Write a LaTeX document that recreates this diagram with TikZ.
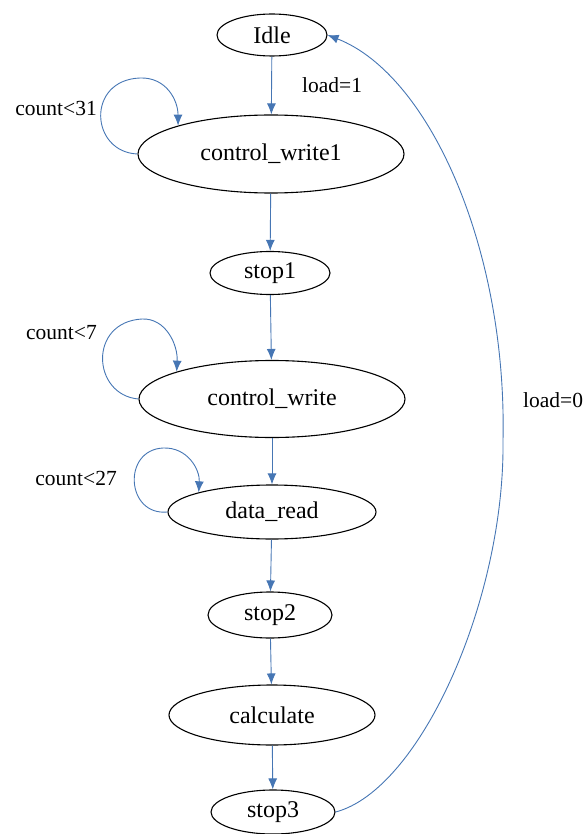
\documentclass[tikz,border=0pt]{standalone}
\usepackage{fontspec}
\setmainfont{Liberation Serif}
\usetikzlibrary{arrows.meta,shapes.geometric}
\definecolor{edgeblue}{RGB}{70,118,180}
\tikzset{
  state/.style={draw=black,line width=1.1pt,ellipse,inner sep=0pt,font=\fontsize{24}{28}\selectfont},
  edge/.style={draw=edgeblue,line width=0.9pt,-{Latex[length=11pt,width=9pt]}},
  lbl/.style={font=\fontsize{21.5}{25}\selectfont,inner sep=0pt}
}
\begin{document}
\begin{tikzpicture}[x=1pt,y=-1pt]
\useasboundingbox (0,0) rectangle (587,834);
\node[state,minimum width=110pt,minimum height=42pt] (idle) at (272,35) {Idle};
\node[state,minimum width=266pt,minimum height=78pt] (cw1) at (271,154) {control\_write1};
\node[state,minimum width=120pt,minimum height=43pt] (s1) at (270,273) {stop1};
\node[state,minimum width=266pt,minimum height=77pt] (cw) at (272,399) {control\_write};
\node[state,minimum width=208pt,minimum height=54pt] (dr) at (272,512) {data\_read};
\node[state,minimum width=124pt,minimum height=46pt] (s2) at (270,615) {stop2};
\node[state,minimum width=206pt,minimum height=60pt] (calc) at (272,715) {calculate};
\node[state,minimum width=124pt,minimum height=44pt] (s3) at (273,812) {stop3};

\draw[edge] (idle) -- (cw1);
\draw[edge] (cw1) -- (s1);
\draw[edge] (s1) -- (cw);
\draw[edge] (cw) -- (dr);
\draw[edge] (dr) -- (s2);
\draw[edge] (s2) -- (calc);
\draw[edge] (calc) -- (s3);

\draw[edge] (cw1.west) .. controls (90,152) and (86,80) .. (140,78) .. controls (166,77) and (178,100) .. (cw1.163);
\draw[edge] (cw.west) .. controls (92,395) and (88,322) .. (142,319) .. controls (166,318) and (178,345) .. (cw.164);
\draw[edge] (dr.west) .. controls (126,516) and (122,450) .. (163,448) .. controls (188,447) and (200,470) .. (dr.165);

\draw[edge] (s3.east) .. controls (420,790) and (505,600) .. (503,440) .. controls (507,250) and (430,75) .. (idle.east);

\node[lbl,anchor=east] (l31) at (97,108) {count<31};
\node[lbl,anchor=east] (l7) at (97,333) {count<7};
\node[lbl,anchor=east] (l27) at (117,478) {count<27};
\node[lbl,anchor=west] (ld1) at (302,85) {load=1};
\node[lbl,anchor=west] (ld0) at (523,400) {load=0};
\end{tikzpicture}
\end{document}
